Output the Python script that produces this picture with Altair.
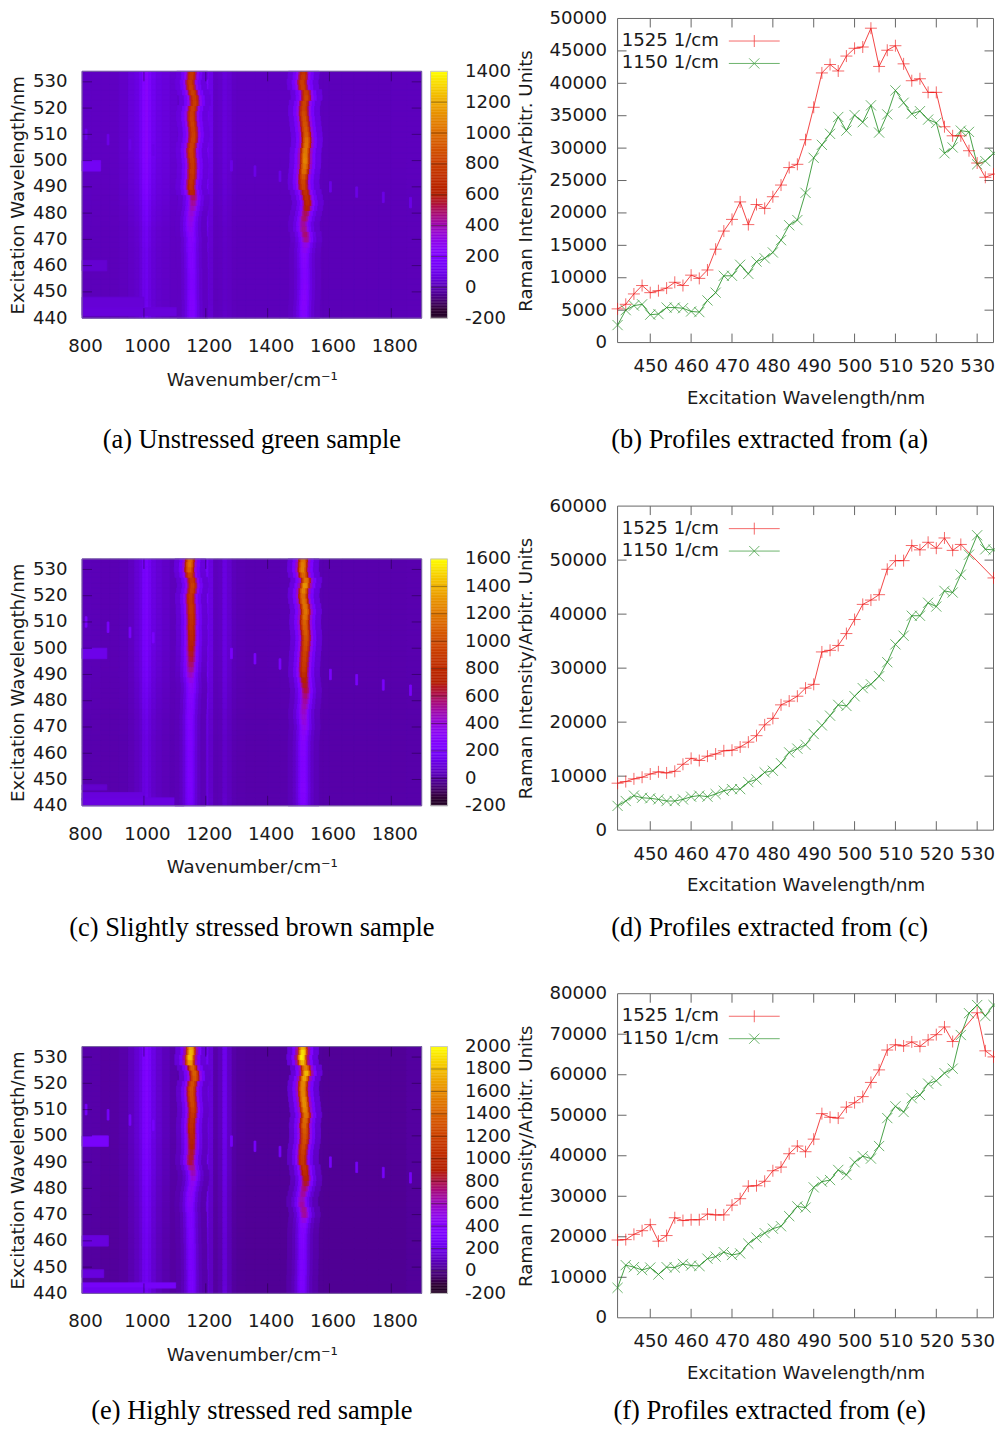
import math
import altair as alt
import pandas as pd

FONT = "DejaVu Sans"
FS = 18.2
TXT = "#1a1a1a"
HEAT_W = 340.5
CELL_H = 325
R_TOP = 53
R_BOT = 300.5
CB_W = 17
CB_CELL = 179
PROF_W = 377

wavelengths = list(range(442, 536, 2))
rows = list(range(440, 536, 2))

edges = [800, 830, 860, 890, 920, 950, 970, 985, 995, 1005, 1015, 1025, 1040, 1060, 1085, 1110, 1130,
         1180, 1195, 1210, 1225, 1240, 1255, 1270, 1285, 1300, 1330, 1360, 1400, 1440, 1480, 1500, 1550,
         1565, 1580, 1600, 1640, 1680, 1720, 1760, 1800, 1850, 1898]

strip_edges = [-50, -34, -24, -16, -11, -6, 0, 6, 11, 16, 24, 34, 50]
strip_shape = [0.06, 0.16, 0.34, 0.62, 0.88, 1.0, 1.0, 0.88, 0.62, 0.34, 0.16, 0.06]

col_a = [25, 22, 20, 22, 35, 60, 80, 120, 210, 240, 170, 110, 80, 65, 45, 30,
         90, 190, 180, 90, 25, 35, 60, 45, 25, 20, 20, 20, 20, 20, 35, 70, 20, 15, 12, 10, 10, 10, 10, 10, 12, 15]
col_c = [35, 30, 25, 25, 30, 50, 80, 110, 190, 210, 160, 110, 80, 60, 40, 30,
         110, 190, 180, 110, 40, 50, 110, 70, 35, 25, 20, 20, 22, 25, 40, 80, 25, 20, 18, 15, 15, 15, 15, 15, 15, 18]
col_e = [60, 55, 45, 45, 60, 100, 140, 190, 300, 340, 280, 190, 130, 90, 60, 50,
         130, 260, 250, 150, 55, 90, 210, 110, 50, 35, 30, 30, 30, 30, 60, 120, 35, 30, 25, 25, 25, 25, 25, 25, 25, 40]

gain_a = [.5, .5, .48, .45, .45, .45, .45, .45, .45, .45, .45, .45, .45, .45, .48, .5, .5, .5, .55, .6, .62, .65, .7, .75,
          .8, .82, .85, .88, .9, .92, .95, 1, 1, 1, 1, 1, 1, 1, 1, 1, 1, 1, 1, 1, 1, 1, 1, 1]
gain_c = [.6, .6, .58, .55, .55, .55, .55, .55, .55, .55, .55, .55, .55, .55, .58, .6, .6, .62, .65, .7, .72, .75, .78, .8,
          .85, .88, .9, .92, .94, .96, 1, 1, 1, 1, 1, 1, 1, 1, 1, 1, 1, 1, 1, 1, 1, 1, 1, 1]
gain_e = [.75, .72, .7, .7, .7, .7, .7, .7, .7, .7, .7, .7, .72, .72, .75, .75, .75, .78, .8, .8, .82, .85, .85, .88,
          .9, .9, .92, .92, .94, .96, 1, 1, 1, 1, 1, 1, 1, 1, 1, 1, 1, 1, 1, 1, 1, 1, 1, 1]

amp_a_1150 = [190, 195, 200, 200, 195, 190, 185, 185, 185, 190, 195, 195, 200,
              205, 210, 220, 240, 260, 280, 300, 330, 370, 420, 470,
              640, 700, 720, 730, 760, 750, 760, 780, 790, 790, 800, 790, 780, 800, 790, 780, 790, 770, 760, 800, 780, 760, 740, 740]
amp_a_1525 = [200, 210, 220, 225, 225, 220, 215, 210, 205, 205, 210, 215, 225,
              260, 300, 430, 470, 440, 420, 480, 500, 600, 660, 680,
              700, 800, 820, 880, 980, 1020, 1060, 1040, 1020, 1000, 980, 920, 900, 880, 860, 840, 800, 800, 820, 780, 790, 790, 740, 700]
ctr_a_1150 = [1157, 1157, 1157, 1157, 1156, 1156, 1156, 1156, 1156, 1156, 1155, 1155, 1155,
              1154, 1154, 1155, 1153, 1152, 1152, 1153, 1155, 1158, 1160, 1161,
              1156, 1153, 1154, 1157, 1157, 1158, 1157, 1155, 1154, 1156, 1160, 1161, 1160, 1158, 1156, 1156, 1159, 1165, 1164, 1159, 1153, 1151, 1155, 1156]
ctr_a_1525 = [1518, 1518, 1518, 1519, 1520, 1520, 1521, 1521, 1521, 1521, 1520, 1520, 1520,
              1521, 1523, 1525, 1523, 1518, 1517, 1520, 1524, 1528, 1530, 1527,
              1523, 1517, 1516, 1517, 1519, 1521, 1522, 1522, 1523, 1526, 1527, 1526, 1524, 1522, 1520, 1518, 1518, 1520, 1526, 1525, 1515, 1513, 1516, 1517]

amp_c_1150 = [190, 195, 200, 205, 210, 215, 215, 215, 215, 215, 215, 220, 225,
              225, 225, 230, 235, 240, 240, 240, 250, 260, 280, 300,
              350, 420, 500, 550, 600, 640, 680, 720, 750, 770, 800, 820, 830, 850, 850, 840, 850, 880, 900, 860, 930, 1080, 1150, 1120]
amp_c_1525 = [230, 240, 250, 260, 260, 250, 250, 250, 250, 250, 255, 260, 265,
              280, 300, 340, 370, 400, 420, 460, 480, 530, 600, 650,
              700, 800, 860, 880, 900, 920, 950, 980, 1000, 1040, 1060, 1080, 1140, 1160, 1150, 1140, 1120, 1200, 1280, 1150, 1100, 1200, 1200, 1150]
ctr_c_1150 = [1150, 1150, 1150, 1150, 1150, 1150, 1150, 1150, 1150, 1150, 1150, 1150, 1150,
              1150, 1150, 1150, 1150, 1150, 1151, 1152, 1152, 1153, 1154, 1154,
              1153, 1152, 1153, 1153, 1154, 1154, 1154, 1155, 1155, 1155, 1154, 1155, 1155, 1154, 1154, 1152, 1152, 1156, 1158, 1156, 1150, 1148, 1149, 1150]
ctr_c_1525 = [1516, 1516, 1516, 1516, 1516, 1516, 1516, 1516, 1516, 1516, 1516, 1516, 1516,
              1517, 1518, 1520, 1519, 1518, 1518, 1520, 1522, 1523, 1524, 1522,
              1520, 1518, 1518, 1519, 1520, 1521, 1523, 1524, 1525, 1524, 1522, 1521, 1522, 1524, 1522, 1518, 1516, 1517, 1522, 1525, 1517, 1514, 1515, 1516]

amp_e_1150 = [260, 265, 270, 270, 270, 270, 270, 270, 270, 275, 280, 285, 290,
              290, 300, 310, 330, 360, 380, 390, 400, 420, 480, 560,
              640, 760, 790, 800, 850, 880, 920, 960, 1000, 1020, 1060, 1120, 1180, 1200, 1220, 1240, 1230, 1280, 1320, 1340, 1620, 1760, 1720, 1650]
amp_e_1525 = [270, 280, 290, 290, 285, 285, 290, 290, 290, 300, 310, 320, 330,
              380, 470, 620, 640, 610, 570, 620, 680, 800, 900, 980,
              1040, 1080, 1100, 1140, 1180, 1220, 1260, 1300, 1350, 1380, 1450, 1500, 1550, 1560, 1520, 1520, 1530, 1640, 1720, 1500, 1720, 1900, 1850, 1700]
ctr_e_1150 = [1155, 1155, 1155, 1155, 1155, 1154, 1154, 1154, 1154, 1154, 1153, 1153, 1153,
              1152, 1152, 1152, 1150, 1150, 1151, 1152, 1155, 1158, 1160, 1160,
              1156, 1152, 1153, 1155, 1156, 1156, 1156, 1155, 1155, 1156, 1158, 1159, 1158, 1156, 1155, 1155, 1158, 1165, 1164, 1158, 1150, 1150, 1153, 1153]
ctr_e_1525 = [1512, 1512, 1512, 1512, 1513, 1513, 1513, 1514, 1514, 1514, 1514, 1514, 1515,
              1516, 1518, 1520, 1518, 1512, 1512, 1516, 1520, 1524, 1525, 1522,
              1520, 1514, 1514, 1515, 1517, 1520, 1521, 1521, 1520, 1522, 1525, 1522, 1520, 1518, 1516, 1515, 1516, 1520, 1526, 1524, 1514, 1512, 1515, 1515]

# (wl1, wl2, wn1, wn2, value)
patch_a = [(496, 500, 800, 860, 130), (458, 462, 800, 880, 45), (444, 448, 800, 1000, 55), (441, 444, 800, 1140, 65)]
patch_c = [(496, 500, 800, 880, 130), (446, 448, 800, 880, 70), (442, 445, 800, 1000, 100), (440, 443, 800, 1130, 110)]
patch_e = [(496, 500, 800, 885, 300), (458, 462, 800, 885, 170), (446, 449, 800, 870, 170),
           (442, 444, 800, 1140, 270), (440, 442, 800, 1000, 230)]
spikes = [(813, 510), (884, 508), (955, 506), (1030, 504), (1111, 502), (1201, 500), (1283, 498), (1359, 496),
          (1440, 494), (1603, 490), (1688, 488), (1774, 486), (1862, 484)]

red_a = [5200, 5900, 7500, 8800, 7700, 8000, 8400, 9300, 8800, 10400, 9900, 11200, 14400, 17200, 19000, 21700, 18200,
         21300, 20700, 22500, 24300, 27000, 27500, 31300, 36300, 41600, 42900, 41900, 44200, 45400, 45600, 48500, 42600,
         45100, 45800, 43000, 40400, 40700, 38600, 38600, 33300, 31900, 31900, 29600, 27700, 25500, 26000]
green_a = [2700, 5000, 5700, 5900, 4300, 4400, 5400, 5400, 5300, 4800, 4700, 6500, 7700, 10300, 10300, 12000, 10600,
           12500, 13000, 13900, 15800, 18100, 18900, 23100, 28500, 30500, 32200, 34800, 32700, 35100, 34000, 36600, 32400,
           35200, 38900, 37000, 35300, 35700, 34400, 33900, 29200, 30100, 32700, 32500, 27500, 28000, 29200]
red_c = [8700, 9000, 9500, 9800, 10400, 10800, 10600, 10900, 12200, 13300, 12900, 13700, 14100, 14700, 14800, 15400, 16300,
         17500, 19500, 20700, 23200, 23900, 24800, 26300, 27000, 33000, 33300, 34200, 36400, 39000, 41800, 42600, 43600,
         48300, 49900, 49900, 52700, 51900, 53300, 52200, 54100, 51800, 52900, None, None, None, 46700]
green_c = [4500, 5400, 6400, 6000, 5900, 5700, 5400, 5400, 5700, 6200, 6400, 6200, 6700, 7300, 7600, 7600, 8900,
           9400, 10700, 11000, 12400, 14400, 15100, 15800, 17800, 19400, 21200, 23200, 23000, 24800, 26300, 27000, 28500,
           31100, 34400, 36000, 39700, 39700, 42100, 41400, 44300, 44000, 47300, 51000, 54600, 52000, 51900]
red_e = [19200, 19300, 20600, 21500, 23000, 18900, 20300, 24700, 24000, 24200, 24200, 25600, 25400, 25400, 27800, 29400, 32500,
         32600, 33700, 36300, 37200, 40500, 42400, 41000, 44100, 50400, 49500, 49300, 52000, 53100, 54600, 58100, 61200,
         66100, 67400, 67100, 68100, 67000, 68600, 69900, 71800, 68200, None, None, 75300, 65900, 64400]
green_e = [7400, 13000, 12500, 11800, 12400, 10700, 12500, 12400, 13300, 12900, 12800, 14600, 15100, 16200, 15500, 15900, 18300,
           19800, 20900, 22000, 22600, 25100, 27500, 27200, 32200, 33600, 34000, 36500, 35300, 38400, 39900, 39300, 42400,
           49300, 52200, 50800, 54200, 55000, 57800, 58500, 60400, 61500, 69800, 75200, 77200, 74500, 77200]

# gnuplot's default pm3d palette (rgbformulae 7,5,15) as colour stops
stops = [i / 32 for i in range(33)]
def hexcol(x):
    r = math.sqrt(x)
    g = x ** 3
    b = max(0.0, math.sin(2 * math.pi * x))
    return "#%02x%02x%02x" % (round(r * 255), round(g * 255), round(b * 255))
palette = [hexcol(x) for x in stops]


def color_scale(vmax):
    return alt.Scale(domain=[-200 + x * (vmax + 200) for x in stops], range=palette, clamp=True)


def segs(xticks, yticks, xd, yd, tx, ty):
    out = []
    for t in xticks:
        out.append(dict(a=t, a2=t, b=yd[0], b2=yd[0] + ty))
        out.append(dict(a=t, a2=t, b=yd[1], b2=yd[1] - ty))
    for t in yticks:
        out.append(dict(a=xd[0], a2=xd[0] + tx, b=t, b2=t))
        out.append(dict(a=xd[1], a2=xd[1] - tx, b=t, b2=t))
    return pd.DataFrame(out)


def ax_common(**kw):
    return alt.Axis(labelFont=FONT, labelFontSize=FS, labelColor=TXT, titleFont=FONT, titleFontSize=FS,
                    titleFontWeight="normal", titleColor=TXT, ticks=False, domain=False, grid=False,
                    labelOverlap=False, labelFlush=False, format="d", **kw)


def caption_title(text, offset, dx=0):
    return alt.TitleParams(text, orient="bottom", font="Liberation Serif", fontSize=26.5, fontWeight="normal",
                           color="#000000", anchor="middle", offset=offset, dx=dx)


def heat(col, gain, amp1, ctr1, amp2, ctr2, patches, spike_v, vmax, caption, cap_off):
    rec = []
    for r, (wl, g) in enumerate(zip(rows, gain)):
        y1, y2 = max(wl - 1, 440), min(wl + 1, 534)
        for i, c in enumerate(col):
            rec.append(dict(x=edges[i], x2=edges[i + 1], y=y1, y2=y2, v=c * g))
    for (a, b, p, q, v) in patches:
        rec.append(dict(x=p, x2=q, y=a, y2=b, v=v))
    for (wn, wl) in spikes:
        rec.append(dict(x=wn - 3, x2=wn + 3, y=wl - 2, y2=wl + 2, v=spike_v))
    for amp, ctr in ((amp1, ctr1), (amp2, ctr2)):
        for r, wl in enumerate(rows):
            y1, y2 = max(wl - 1, 440), min(wl + 1, 534)
            for i, s in enumerate(strip_shape):
                rec.append(dict(x=ctr[r] + strip_edges[i], x2=ctr[r] + strip_edges[i + 1], y=y1, y2=y2,
                                v=col[1] * gain[r] + amp[r] * s))
    df = pd.DataFrame(rec)
    xs = alt.Scale(domain=[800, 1898], nice=False, zero=False)
    ys = alt.Scale(domain=[440, 534], range=[R_BOT, R_TOP], nice=False, zero=False)
    x_ax = ax_common(values=[800, 1000, 1200, 1400, 1600, 1800], labelPadding=19.5, labelOffset=3,
                     offset=-(CELL_H - R_BOT), title="Wavenumber/cm⁻¹", titlePadding=16.5)
    y_ax = ax_common(values=list(range(440, 540, 10)), labelPadding=15, title="Excitation Wavelength/nm",
                     titlePadding=5)
    frame_df = pd.DataFrame([dict(a=800, a2=1898, b=440, b2=534)])
    backing = alt.Chart(frame_df).mark_rect(fill="#5000b0").encode(
        x=alt.X("a:Q", scale=xs, axis=x_ax), x2="a2:Q", y=alt.Y("b:Q", scale=ys, axis=y_ax), y2="b2:Q")
    cells = alt.Chart(df).mark_rect(strokeWidth=0.8).encode(
        x=alt.X("x:Q", scale=xs, axis=x_ax), x2="x2:Q",
        y=alt.Y("y:Q", scale=ys, axis=y_ax), y2="y2:Q",
        color=alt.Color("v:Q", scale=color_scale(vmax), legend=None),
        stroke=alt.Stroke("v:Q", scale=color_scale(vmax), legend=None),
    )
    tk = segs([1000, 1200, 1400, 1600, 1800], list(range(450, 540, 10)), (800, 1898), (440, 534), 32, 3.8)
    ticks = alt.Chart(tk).mark_rule(color="#1a0030", opacity=0.45, strokeWidth=1).encode(
        x=alt.X("a:Q", scale=xs, axis=x_ax), x2="a2:Q", y=alt.Y("b:Q", scale=ys, axis=y_ax), y2="b2:Q")
    frame = alt.Chart(frame_df).mark_rect(fillOpacity=0, stroke="#7a6aa0", strokeWidth=1).encode(
        x=alt.X("a:Q", scale=xs, axis=x_ax), x2="a2:Q", y=alt.Y("b:Q", scale=ys, axis=y_ax), y2="b2:Q")
    return alt.layer(backing, cells, ticks, frame).properties(
        width=HEAT_W, height=CELL_H, title=caption_title(caption, cap_off))


def colorbar(vmax, ticks_):
    n = 160
    step = (vmax + 200) / n
    df = pd.DataFrame([dict(y=-200 + i * step, y2=-200 + (i + 1) * step, v=-200 + (i + .5) * step) for i in range(n)])
    ys = alt.Scale(domain=[-200, vmax], range=[R_BOT, R_TOP], nice=False, zero=False)
    y_ax = ax_common(values=ticks_, orient="right", offset=-(CB_CELL - CB_W), labelPadding=17, labelAlign="left",
                     title=None, labelExpr="datum.value < 0 ? '-' + abs(datum.value) : '' + datum.value")
    bar = alt.Chart(df).mark_rect(strokeWidth=0.4).encode(
        x=alt.value(0), x2=alt.value(CB_W),
        y=alt.Y("y:Q", scale=ys, axis=y_ax), y2="y2:Q",
        color=alt.Color("v:Q", scale=color_scale(vmax), legend=None),
        stroke=alt.Stroke("v:Q", scale=color_scale(vmax), legend=None),
    )
    tk = alt.Chart(pd.DataFrame({"t": ticks_[1:-1]})).mark_rule(color="#201000", opacity=0.4, strokeWidth=1).encode(
        y=alt.Y("t:Q", scale=ys, axis=y_ax), x=alt.value(0), x2=alt.value(CB_W))
    frame = alt.Chart(pd.DataFrame([dict(b=-200, b2=vmax)])).mark_rect(
        fillOpacity=0, stroke="#c8c8c8", strokeWidth=1).encode(
        y=alt.Y("b:Q", scale=ys, axis=y_ax), y2="b2:Q", x=alt.value(0), x2=alt.value(CB_W))
    return alt.layer(bar, tk, frame).properties(width=CB_CELL, height=CELL_H)


PLUS = "M-1,0L1,0M0,-1L0,1"
CROSS = "M-0.85,-0.85L0.85,0.85M-0.85,0.85L0.85,-0.85"
LEG_PLUS = "M-4.25,0L4.25,0M0,-1L0,1"
LEG_CROSS = "M-4.25,0L4.25,0M-0.85,-0.85L0.85,0.85M-0.85,0.85L0.85,-0.85"
S1, S2 = "1525 1/cm", "1150 1/cm"
RED, GREEN = "#f01818", "#1c8a1c"


def profile(red, green, ymax, ystep, caption, cap_off):
    rec = []
    for w, r, g in zip(wavelengths, red, green):
        if r is not None:
            rec.append(dict(w=w, v=r, s=S1))
        if g is not None:
            rec.append(dict(w=w, v=g, s=S2))
    df = pd.DataFrame(rec)
    xs = alt.Scale(domain=[442, 534], nice=False, zero=False)
    ys = alt.Scale(domain=[0, ymax], nice=False, zero=False)
    cs = alt.Scale(domain=[S1, S2], range=[RED, GREEN])
    yt = list(range(0, ymax + 1, ystep))
    xt = list(range(450, 540, 10))
    x_ax = ax_common(values=xt, labelPadding=15, title="Excitation Wavelength/nm", titlePadding=14.5)
    y_ax = ax_common(values=yt, labelPadding=11, title="Raman Intensity/Arbitr. Units", titlePadding=13.5)
    X = alt.X("w:Q", scale=xs, axis=x_ax)
    Y = alt.Y("v:Q", scale=ys, axis=y_ax)
    dr, dg = df[df.s == S1], df[df.s == S2]
    line_r = alt.Chart(dr).mark_line(strokeWidth=0.8, color=RED, clip=True).encode(x=X, y=Y)
    line_g = alt.Chart(dg).mark_line(strokeWidth=0.8, color=GREEN, clip=True).encode(x=X, y=Y)
    p1 = alt.Chart(dr).mark_point(shape=PLUS, size=144, filled=False, strokeWidth=0.8, opacity=0.8, color=RED).encode(x=X, y=Y)
    p2 = alt.Chart(dg).mark_point(shape=CROSS, size=144, filled=False, strokeWidth=0.8, opacity=0.8, color=GREEN).encode(x=X, y=Y)
    leg = alt.Legend(orient="none", legendX=128, legendY=13.5, title=None, symbolSize=144, symbolStrokeWidth=0.8,
                     symbolOpacity=0.8, labelFont=FONT, labelFontSize=FS, labelColor=TXT,
                     labelOffset={"expr": "-142"},
                     labelAlign="left", rowPadding=3.5, padding=0, labelLimit=200)
    lg = alt.Chart(df[df.w == 490]).mark_point(opacity=0, filled=False, size=144).encode(
        x=X, y=Y,
        color=alt.Color("s:N", scale=cs, legend=leg),
        shape=alt.Shape("s:N", scale=alt.Scale(domain=[S1, S2], range=[LEG_PLUS, LEG_CROSS]), legend=leg))
    tk = segs(xt, yt[1:-1], (442, 534), (0, ymax), 92 * 9 / PROF_W, ymax * 9 / CELL_H)
    ticks = alt.Chart(tk).mark_rule(color="#666666", strokeWidth=1).encode(
        x=alt.X("a:Q", scale=xs, axis=x_ax), x2="a2:Q", y=alt.Y("b:Q", scale=ys, axis=y_ax), y2="b2:Q")
    frame = alt.Chart(pd.DataFrame([dict(a=442, a2=534, b=0, b2=ymax)])).mark_rect(
        fillOpacity=0, stroke="#666666", strokeWidth=1).encode(
        x=alt.X("a:Q", scale=xs, axis=x_ax), x2="a2:Q", y=alt.Y("b:Q", scale=ys, axis=y_ax), y2="b2:Q")
    return alt.layer(ticks, frame, line_r, line_g, p1, p2, lg).properties(
        width=PROF_W, height=CELL_H, title=caption_title(caption, cap_off, dx=-36))


panels = [
    heat(col_a, gain_a, amp_a_1150, ctr_a_1150, amp_a_1525, ctr_a_1525, patch_a, 90, 1400, "(a) Unstressed green sample", 39),
    colorbar(1400, list(range(-200, 1401, 200))),
    profile(red_a, green_a, 50000, 5000, "(b) Profiles extracted from (a)", 21),
    heat(col_c, gain_c, amp_c_1150, ctr_c_1150, amp_c_1525, ctr_c_1525, patch_c, 210, 1600, "(c) Slightly stressed brown sample", 39),
    colorbar(1600, list(range(-200, 1601, 200))),
    profile(red_c, green_c, 60000, 10000, "(d) Profiles extracted from (c)", 21),
    heat(col_e, gain_e, amp_e_1150, ctr_e_1150, amp_e_1525, ctr_e_1525, patch_e, 280, 2000, "(e) Highly stressed red sample", 35),
    colorbar(2000, list(range(-200, 2001, 200))),
    profile(red_e, green_e, 80000, 10000, "(f) Profiles extracted from (e)", 17),
]

chart = alt.concat(*panels, columns=3, spacing={"row": 164, "column": 8.5}, bounds="flush", align="each").resolve_scale(
    color="independent", stroke="independent", shape="independent"
).configure_view(stroke=None).properties(padding={"left": 0.3, "top": -1.5, "right": -6.5, "bottom": 0}, background="white")

chart.save("out.html", embed_options={"renderer": "svg", "actions": False})
